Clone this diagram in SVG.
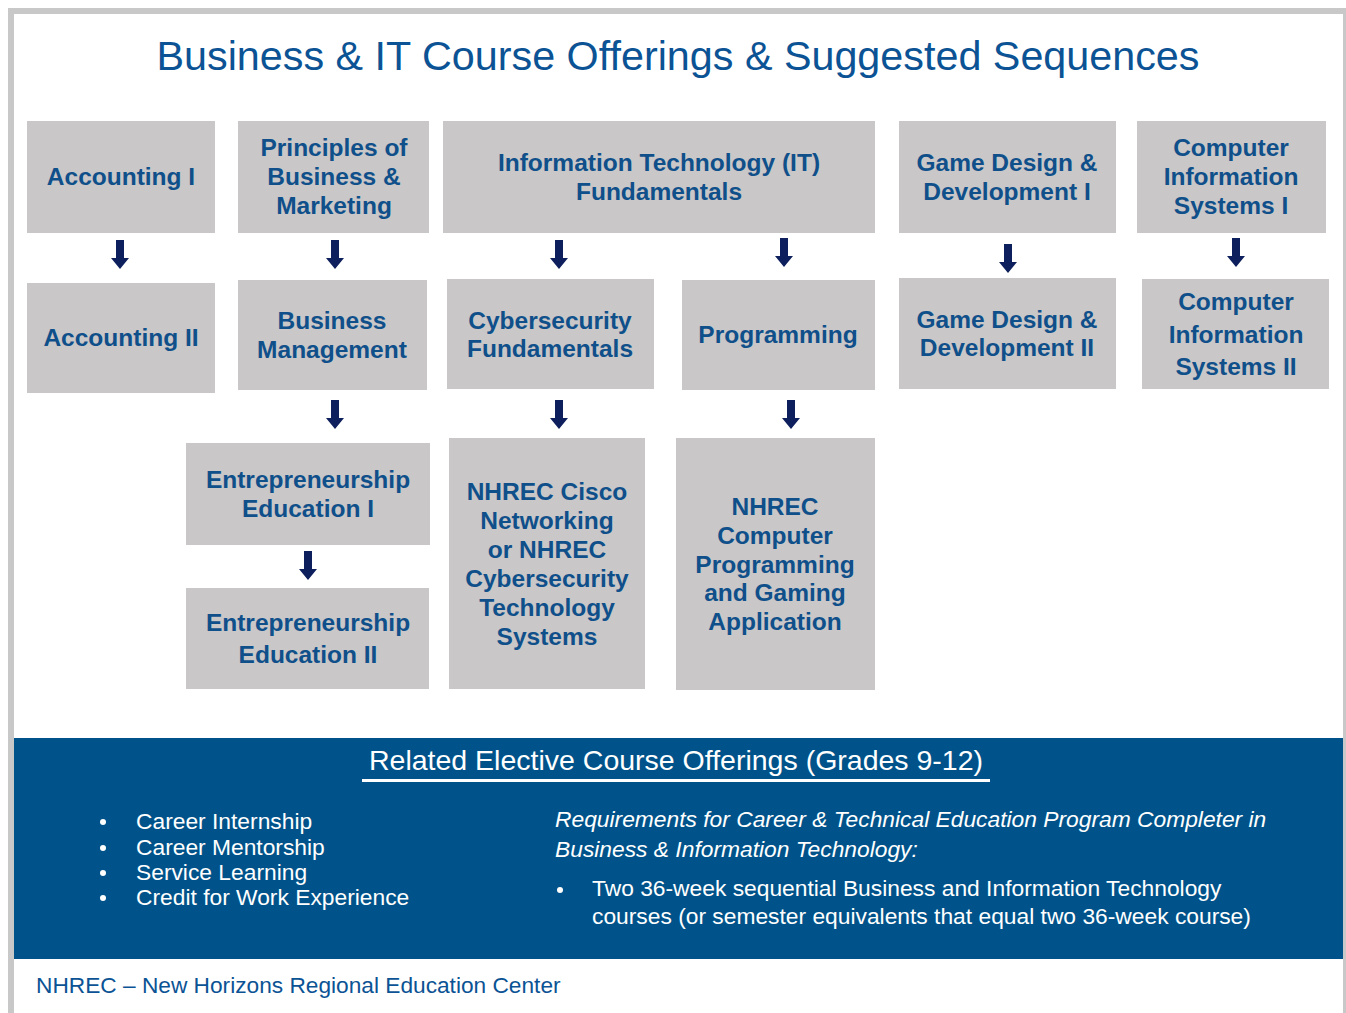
<svg xmlns="http://www.w3.org/2000/svg" width="1346" height="1013" viewBox="0 0 1346 1013">
<style>
.box{fill:#C9C7C8}
.bt{font-family:"Liberation Sans",Arial,sans-serif;font-weight:bold;font-size:24.5px;fill:#0F4F8A;text-anchor:middle}
.wt{font-family:"Liberation Sans",Arial,sans-serif;font-size:22.8px;fill:#FFFFFF}
.arr{fill:#0D1F5C}
</style>
<defs>
<path id="ar" d="M-4,0 H4 V18 H9 L0,29 L-9,18 H-4 Z"/>
</defs>
<rect x="0" y="0" width="1346" height="1013" fill="#FFFFFF"/>
<rect x="11" y="11" width="1335" height="1010" fill="none" stroke="#C8C8C8" stroke-width="6"/>
<text x="678" y="70" font-family="Liberation Sans, Arial, sans-serif" font-size="41.3" fill="#0B5394" text-anchor="middle">Business &amp; IT Course Offerings &amp; Suggested Sequences</text>

<g id="n-acc1"><rect class="box" x="27" y="121" width="188" height="112"/><text class="bt" x="121" y="185">Accounting I</text></g>
<g id="n-pbm"><rect class="box" x="238" y="121" width="191" height="112"/><text class="bt" x="334" y="156">Principles of</text><text class="bt" x="334" y="185">Business &amp;</text><text class="bt" x="334" y="214">Marketing</text></g>
<g id="n-itf"><rect class="box" x="443" y="121" width="432" height="112"/><text class="bt" x="659" y="171">Information Technology (IT)</text><text class="bt" x="659" y="200">Fundamentals</text></g>
<g id="n-gdd1"><rect class="box" x="899" y="121" width="217" height="112"/><text class="bt" x="1007" y="171">Game Design &amp;</text><text class="bt" x="1007" y="200">Development I</text></g>
<g id="n-cis1"><rect class="box" x="1137" y="121" width="189" height="112"/><text class="bt" x="1231" y="156">Computer</text><text class="bt" x="1231" y="185">Information</text><text class="bt" x="1231" y="214">Systems I</text></g>

<g id="n-acc2"><rect class="box" x="27" y="283" width="188" height="110"/><text class="bt" x="121" y="346">Accounting II</text></g>
<g id="n-bm"><rect class="box" x="238" y="280" width="189" height="110"/><text class="bt" x="332" y="329">Business</text><text class="bt" x="332" y="358">Management</text></g>
<g id="n-cyf"><rect class="box" x="447" y="279" width="207" height="110"/><text class="bt" x="550" y="329">Cybersecurity</text><text class="bt" x="550" y="357">Fundamentals</text></g>
<g id="n-prog"><rect class="box" x="682" y="280" width="193" height="110"/><text class="bt" x="778" y="343">Programming</text></g>
<g id="n-gdd2"><rect class="box" x="899" y="278" width="217" height="111"/><text class="bt" x="1007" y="328">Game Design &amp;</text><text class="bt" x="1007" y="356">Development II</text></g>
<g id="n-cis2"><rect class="box" x="1142" y="279" width="187" height="110"/><text class="bt" x="1236" y="310">Computer</text><text class="bt" x="1236" y="343">Information</text><text class="bt" x="1236" y="375">Systems II</text></g>

<g id="n-ent1"><rect class="box" x="186" y="443" width="244" height="102"/><text class="bt" x="308" y="488">Entrepreneurship</text><text class="bt" x="308" y="517">Education I</text></g>
<g id="n-ent2"><rect class="box" x="186" y="588" width="243" height="101"/><text class="bt" x="308" y="631">Entrepreneurship</text><text class="bt" x="308" y="663">Education II</text></g>
<g id="n-cisco"><rect class="box" x="449" y="438" width="196" height="251"/><text class="bt" x="547" y="500">NHREC Cisco</text><text class="bt" x="547" y="529">Networking</text><text class="bt" x="547" y="558">or NHREC</text><text class="bt" x="547" y="587">Cybersecurity</text><text class="bt" x="547" y="616">Technology</text><text class="bt" x="547" y="645">Systems</text></g>
<g id="n-cpga"><rect class="box" x="676" y="438" width="199" height="252"/><text class="bt" x="775" y="515">NHREC</text><text class="bt" x="775" y="544">Computer</text><text class="bt" x="775" y="573">Programming</text><text class="bt" x="775" y="601">and Gaming</text><text class="bt" x="775" y="630">Application</text></g>

<g id="connectors" class="arr">
<use href="#ar" x="120" y="240"/>
<use href="#ar" x="335" y="240"/>
<use href="#ar" x="559" y="240"/>
<use href="#ar" x="784" y="238"/>
<use href="#ar" x="1008" y="244"/>
<use href="#ar" x="1236" y="238"/>
<use href="#ar" x="335" y="400"/>
<use href="#ar" x="559" y="400"/>
<use href="#ar" x="791" y="400"/>
<use href="#ar" x="308" y="551"/>
</g>

<g id="electives">
<rect x="14" y="738" width="1329" height="221" fill="#00538A"/>
<text x="676" y="770" font-family="Liberation Sans, Arial, sans-serif" font-size="28.5" fill="#FFFFFF" text-anchor="middle">Related Elective Course Offerings (Grades 9-12)</text>
<rect x="362" y="779" width="628" height="3" fill="#FFFFFF"/>
<circle cx="103" cy="822" r="3" fill="#FFFFFF"/>
<circle cx="103" cy="848" r="3" fill="#FFFFFF"/>
<circle cx="103" cy="873" r="3" fill="#FFFFFF"/>
<circle cx="103" cy="898" r="3" fill="#FFFFFF"/>
<text class="wt" x="136" y="829">Career Internship</text>
<text class="wt" x="136" y="855">Career Mentorship</text>
<text class="wt" x="136" y="880">Service Learning</text>
<text class="wt" x="136" y="905">Credit for Work Experience</text>
<text class="wt" x="555" y="827" font-style="italic">Requirements for Career &amp; Technical Education Program Completer in</text>
<text class="wt" x="555" y="857" font-style="italic">Business &amp; Information Technology:</text>
<circle cx="560" cy="890" r="3" fill="#FFFFFF"/>
<text class="wt" x="592" y="896">Two 36-week sequential Business and Information Technology</text>
<text class="wt" x="592" y="924">courses (or semester equivalents that equal two 36-week course)</text>
</g>
<text x="36" y="993" font-family="Liberation Sans, Arial, sans-serif" font-size="22.7" fill="#0B5394">NHREC – New Horizons Regional Education Center</text>
</svg>
